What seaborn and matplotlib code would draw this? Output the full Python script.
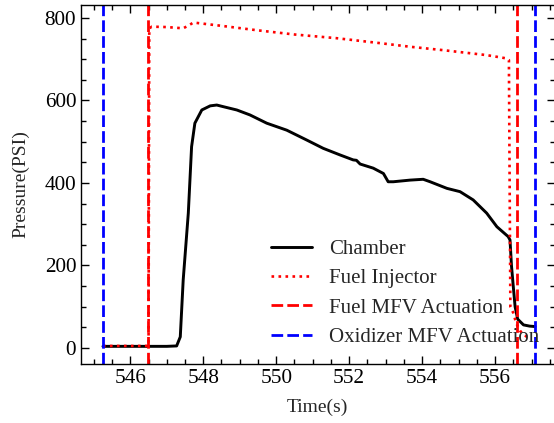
import numpy as np
import pandas as pd
import matplotlib
matplotlib.use("Agg")
import matplotlib.pyplot as plt
import seaborn as sns
from matplotlib.ticker import MultipleLocator

# ---- data ----
chamber_t = [545.25, 545.8, 546.5, 547.0, 547.27, 547.37, 547.45, 547.59, 547.68, 547.77,
             547.96, 548.19, 548.37, 548.55, 548.92, 549.28, 549.74, 550.29, 550.84, 551.29,
             551.75, 552.11, 552.20, 552.30, 552.66, 552.94, 553.07, 553.21, 553.67, 554.03,
             554.22, 554.68, 555.04, 555.40, 555.77, 556.05, 556.36, 556.41, 556.45, 556.50,
             556.55, 556.62, 556.78, 556.95, 557.10]
chamber_p = [4, 4, 4, 4, 5, 27, 165, 327, 488, 545,
             577, 587, 589, 585, 577, 565, 545, 528, 504, 484,
             468, 456, 455, 446, 436, 423, 403, 403, 407, 409,
             403, 387, 379, 359, 327, 294, 270, 262, 200, 149,
             100, 70, 56, 53, 52]

inj_t = [545.25, 546.0, 546.5, 546.52, 546.59, 547.0, 547.45, 547.6, 547.73, 548.5,
         549.5, 550.5, 551.66, 552.85, 553.7, 554.58, 555.77, 556.32, 556.38, 556.42,
         556.50, 556.58, 556.7, 556.87, 557.0]
inj_p = [5, 5, 5, 775, 779, 778, 775, 782, 789, 781,
         770, 760, 751, 739, 730, 722, 710, 702, 698, 100,
         85, 60, 40, 27, 25]

fuel_mfv = [546.49, 556.61]
ox_mfv = [545.24, 557.10]

labels = ["Chamber", "Fuel Injector", "Fuel MFV Actuation", "Oxidizer MFV Actuation"]

# ---- style ----
sns.set_theme(style="ticks")
plt.rcParams["font.family"] = ["Liberation Serif", "DejaVu Serif"]
plt.rcParams["mathtext.fontset"] = "stix"

fig = plt.figure(figsize=(5.54, 4.23), dpi=100)
ax = fig.add_axes([81 / 554, 59 / 423, 473.5 / 554, 359 / 423])

df_ch = pd.DataFrame({"t": chamber_t, "p": chamber_p})
df_in = pd.DataFrame({"t": inj_t, "p": inj_p})

sns.lineplot(data=df_ch, x="t", y="p", ax=ax, color="black", lw=2.1,
             estimator=None, sort=False, label=labels[0])
sns.lineplot(data=df_in, x="t", y="p", ax=ax, color="#ff0000", lw=1.9,
             linestyle=":", estimator=None, sort=False, label=labels[1])
for i, v in enumerate(fuel_mfv):
    ax.axvline(v, color="#ff0000", lw=2.0, ls=(0, (4.2, 1.5)),
               label=labels[2] if i == 0 else None)
for i, v in enumerate(ox_mfv):
    ax.axvline(v, color="#0000ff", lw=2.0, ls=(0, (4.2, 1.5)),
               label=labels[3] if i == 0 else None)

ax.set_xlim(544.648, 557.63)
ax.set_ylim(-38.8, 831.5)
ax.xaxis.set_major_locator(MultipleLocator(2))
ax.xaxis.set_minor_locator(MultipleLocator(0.5))
ax.yaxis.set_major_locator(MultipleLocator(200))
ax.yaxis.set_minor_locator(MultipleLocator(50))
ax.tick_params(which="both", direction="in", top=True, right=True, width=1.0,
               labelsize=15.3, colors="black")
ax.tick_params(which="major", length=6)
ax.tick_params(which="minor", length=3.6)
for s in ax.spines.values():
    s.set_linewidth(1.0)
    s.set_color("black")

ax.set_xlabel("Time(s)", fontsize=14, labelpad=8)
ax.set_ylabel("Pressure(PSI)", fontsize=14, labelpad=11)

leg = ax.legend(loc="upper left", bbox_to_anchor=(0.470, 0.459),
                bbox_transform=fig.transFigure, frameon=False, fontsize=15,
                handlelength=2.0, handletextpad=0.8, labelspacing=0.47, borderpad=0)

fig.savefig("out.png", dpi=100)
